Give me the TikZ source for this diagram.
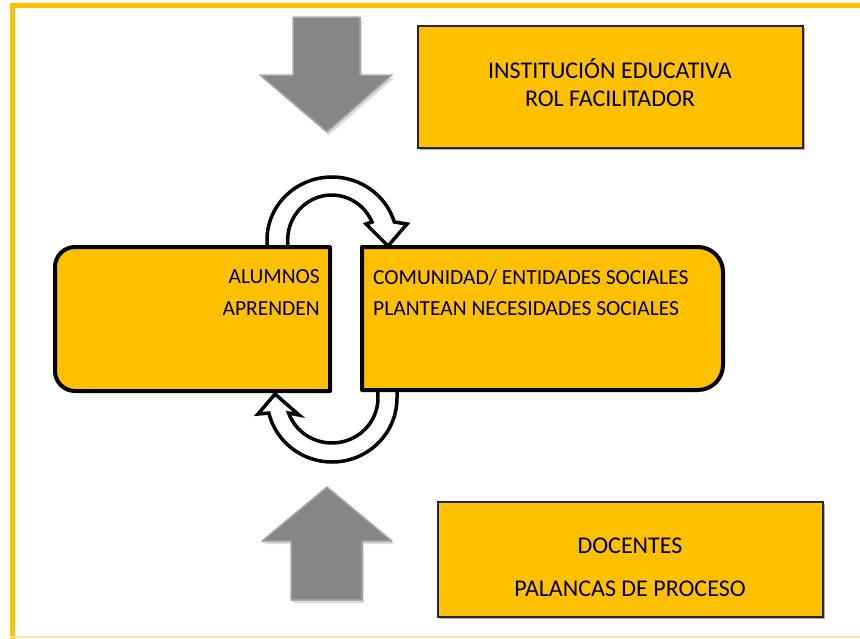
\documentclass[tikz,border=0pt]{standalone}
\usepackage{fontspec}
\setmainfont{Carlito}
\definecolor{gold}{HTML}{FFC000}
\definecolor{paleg}{HTML}{FFE699}
\definecolor{blockgray}{HTML}{868686}
\definecolor{blockedge}{HTML}{A8A8A8}
\begin{document}
\begin{tikzpicture}[x=1pt,y=1pt,yscale=-1,
  txt/.style={font=\fontsize{24}{28}\selectfont, inner sep=0pt},
  midtxt/.style={font=\fontsize{21.5}{25}\selectfont, inner sep=0pt},
  panel/.style={fill=gold, draw=black, line width=4pt, line join=round},
  infobox/.style={fill=gold, draw=black!85, line width=1.5pt},
  loop/.style={fill=white, draw=black, line width=3.5pt, line join=miter, miter limit=4},
  block/.style={fill=blockgray, draw=blockedge, line width=1.5pt, line join=round}]
\useasboundingbox (0,0) rectangle (860,638);
% frame
\draw[gold, line width=5pt] (12,640) -- (12,5.5) -- (865,5.5);
\draw[paleg, line width=1.5pt] (10,637) -- (860,637);

% grey block arrows
\fill[black!15] (295,20) -- (362,20) -- (362,78) -- (394,78) -- (329,135) -- (262,78) -- (295,78) -- cycle;
\path[block] (293,17) -- (360,17) -- (360,75) -- (392,75) -- (327,132) -- (260,75) -- (293,75) -- cycle;
\fill[black!15] (329,490) -- (394,544) -- (364,544) -- (364,603) -- (293,603) -- (293,544) -- (264,544) -- cycle;
\path[block] (327,487) -- (392,541) -- (362,541) -- (362,600) -- (291,600) -- (291,541) -- (262,541) -- cycle;

% circular arrows
\draw[loop] (267,252) -- (267,240) arc[start angle=180, end angle=343.4, x radius=65, y radius=63]
  -- (407,224) -- (388,246) -- (366,224) -- (372,222)
  arc[start angle=336.4, end angle=180, x radius=44, y radius=45] -- (288,252) -- cycle;
\draw[loop] (397,386) -- (397,398) arc[start angle=0, end angle=166.4, x radius=65, y radius=64]
  -- (258,414) -- (275,394) -- (299,415) -- (288.6,413)
  arc[start angle=160.5, end angle=0, x radius=46, y radius=45] -- (378,386) -- cycle;

% middle panels
\draw[panel] (330,391) -- (330,247) -- (75,247) arc[start angle=270, end angle=180, radius=20]
  -- (55,371) arc[start angle=180, end angle=90, radius=20] -- cycle;
\draw[panel] (362,247) -- (698,247) arc[start angle=270, end angle=360, radius=25]
  -- (723,365) arc[start angle=0, end angle=90, radius=25] -- (362,390) -- cycle;
\node[midtxt, anchor=east] (alu) at (320,277) {ALUMNOS};
\node[midtxt, anchor=east] (apr) at (320,309) {APRENDEN};
\node[midtxt, anchor=west] (com) at (373,277) {COMUNIDAD/ ENTIDADES SOCIALES};
\node[midtxt, anchor=west] (pla) at (373,309) {PLANTEAN NECESIDADES SOCIALES};

% info boxes
\fill[black!30] (420,28) rectangle (805,150);
\draw[infobox] (418,26) rectangle (803,148);
\node[txt] (inst) at (610,69) {INSTITUCIÓN EDUCATIVA};
\node[txt] (rol) at (610,99) {ROL FACILITADOR};
\fill[black!30] (440,504) rectangle (825,619);
\draw[infobox] (438,502) rectangle (823,617);
\node[txt] (doc) at (630,546) {DOCENTES};
\node[txt] (pal) at (630,589) {PALANCAS DE PROCESO};
\end{tikzpicture}
\end{document}
